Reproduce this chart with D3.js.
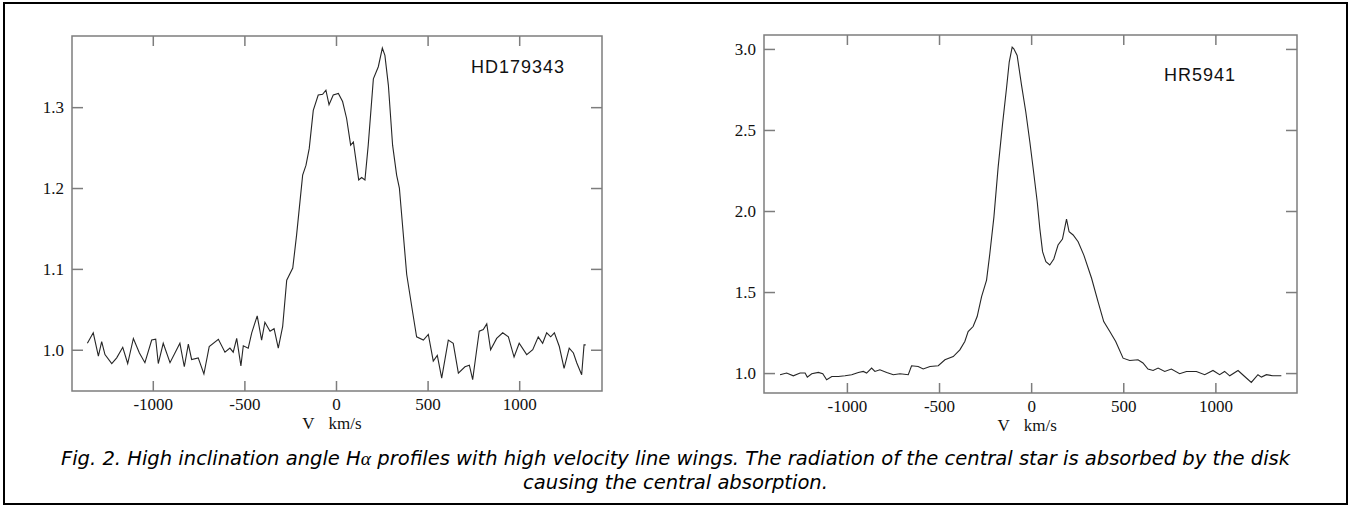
<!DOCTYPE html>
<html>
<head>
<meta charset="utf-8">
<script src="https://cdn.jsdelivr.net/npm/d3@7"></script>
<style>
  body { margin: 0; background: #fff; }
  svg { display: block; }
</style>
</head>
<body>
<svg id="fig" width="1351" height="506"></svg>
<script>
// HD179343 profile, velocity (km/s) and relative flux
const hdV = [-1357,-1325,-1297,-1279,-1261,-1224,-1197,-1164,-1137,-1106,-1073,-1043,-1006,-984,-970,-943,-906,-852,-828,-806,-788,-752,-721,-692,-642,-606,-579,-561,-542,-519,-506,-479,-460,-430,-406,-388,-360,-338,-315,-291,-269,-236,-215,-182,-164,-146,-124,-97,-73,-55,-38,-15,13,36,58,80,95,124,140,158,176,204,231,253,267,286,309,331,346,386,418,440,477,504,531,553,577,613,640,668,704,728,746,768,782,804,823,844,877,910,941,972,1000,1041,1074,1104,1128,1150,1172,1192,1219,1245,1273,1296,1314,1341,1354,1363];
const hdF = [1.008,1.021,0.992,1.010,0.994,0.983,0.990,1.003,0.983,1.014,0.996,0.984,1.012,1.013,0.983,1.008,0.984,1.008,0.979,1.007,0.988,0.990,0.970,1.004,1.013,0.997,1.002,0.997,1.014,0.980,1.005,1.002,1.021,1.042,1.012,1.034,1.023,1.026,1.002,1.029,1.086,1.101,1.142,1.216,1.228,1.249,1.296,1.315,1.316,1.321,1.303,1.315,1.317,1.307,1.286,1.253,1.257,1.210,1.213,1.210,1.253,1.335,1.350,1.373,1.364,1.327,1.253,1.216,1.200,1.093,1.047,1.016,1.012,1.019,0.986,0.993,0.965,1.012,1.008,0.971,0.979,0.981,0.963,1.000,1.023,1.025,1.032,1.000,1.014,1.021,1.016,0.991,1.008,0.994,1.000,1.016,1.008,1.021,1.016,1.021,1.004,0.977,1.002,0.996,0.984,0.969,1.006,1.006];

// HR5941 profile
const hrV = [-1363,-1327,-1291,-1254,-1227,-1215,-1191,-1155,-1131,-1110,-1082,-1047,-1010,-974,-938,-911,-893,-866,-848,-821,-784,-748,-712,-667,-649,-613,-586,-549,-504,-468,-423,-387,-360,-342,-315,-293,-269,-242,-224,-202,-179,-155,-133,-119,-103,-94,-76,-52,-29,-7,11,33,47,62,80,101,123,146,170,192,206,228,255,286,328,363,394,427,459,499,535,580,607,634,662,689,725,761,806,843,897,942,987,1023,1050,1078,1123,1159,1195,1231,1250,1277,1312,1358];
const hrF = [0.990,1.000,0.983,1.000,1.000,0.975,0.996,1.004,0.996,0.959,0.979,0.979,0.983,0.990,1.004,1.010,1.000,1.031,1.010,1.020,1.004,0.990,0.996,0.990,1.045,1.041,1.025,1.041,1.045,1.082,1.102,1.143,1.195,1.256,1.287,1.349,1.472,1.574,1.739,1.964,2.272,2.539,2.765,2.919,3.011,3.001,2.960,2.775,2.611,2.426,2.262,2.057,1.893,1.749,1.687,1.667,1.704,1.790,1.827,1.950,1.872,1.852,1.810,1.728,1.585,1.441,1.318,1.256,1.195,1.092,1.078,1.082,1.062,1.025,1.016,1.031,1.010,1.025,0.996,1.010,1.010,0.990,1.016,0.990,1.010,0.983,1.016,0.979,0.942,0.990,0.975,0.990,0.983,0.983];

const xTicks = [-1000, -500, 0, 500, 1000];
const hdYTicks = [1.0, 1.1, 1.2, 1.3];
const hrYTicks = [1.0, 1.5, 2.0, 2.5, 3.0];
const captionLine1 = ["Fig. 2. High inclination angle H", "α", " profiles with high velocity line wings. The radiation of the central star is absorbed by the disk"];
const captionLine2 = "causing the central absorption.";

const svg = d3.select("#fig");
const frameColor = "#7d7d7d";
const serif = "'Liberation Serif', 'Times New Roman', serif";

// outer border of the figure
svg.append("rect")
  .attr("x", 4).attr("y", 3)
  .attr("width", 1343).attr("height", 501)
  .attr("fill", "none")
  .attr("stroke", "#000")
  .attr("stroke-width", 2);

function drawPanel(opt){
  var w = opt.right - opt.left, h = opt.bottom - opt.top;
  var x = d3.scaleLinear().domain(opt.xDomain).range([0, w]);
  var y = d3.scaleLinear().domain(opt.yDomain).range([h, 0]);
  var g = svg.append("g").attr("transform", "translate(" + opt.left + "," + opt.top + ")");

  var fmtY = d3.format(".1f");

  g.append("g").attr("transform", "translate(0," + h + ")")
    .call(d3.axisBottom(x).tickValues(xTicks).tickSize(-10).tickSizeOuter(0).tickPadding(7).tickFormat(d => String(d)));
  g.append("g")
    .call(d3.axisTop(x).tickValues(xTicks).tickSize(-10).tickSizeOuter(0).tickFormat(""));
  g.append("g")
    .call(d3.axisLeft(y).tickValues(opt.yTicks).tickSize(-11).tickSizeOuter(0).tickPadding(8).tickFormat(fmtY));
  g.append("g").attr("transform", "translate(" + w + ",0)")
    .call(d3.axisRight(y).tickValues(opt.yTicks).tickSize(-11).tickSizeOuter(0).tickFormat(""));

  g.selectAll(".domain").remove();
  g.selectAll(".tick line").attr("stroke", frameColor).attr("stroke-width", 1.5);
  g.selectAll(".tick text")
    .attr("fill", "#111")
    .style("font-family", serif)
    .style("font-size", "17px");

  g.append("rect")
    .attr("width", w).attr("height", h)
    .attr("fill", "none")
    .attr("stroke", frameColor)
    .attr("stroke-width", 1.5);

  var pts = opt.v.map((v, i) => ({v: v, f: opt.f[i]}));
  var line = d3.line()
    .x(d => x(d.v))
    .y(d => y(d.f))
    .curve(d3.curveLinear);
  g.append("path")
    .datum(pts)
    .attr("d", line)
    .attr("fill", "none")
    .attr("stroke", "#262626")
    .attr("stroke-width", 1.1);

  // star name
  g.append("text")
    .attr("x", opt.nameX - opt.left)
    .attr("y", opt.nameY - opt.top)
    .attr("fill", "#111")
    .style("font-family", "'Liberation Sans', Arial, sans-serif")
    .style("font-size", "18px")
    .style("letter-spacing", "1px")
    .text(opt.name);

  // axis title
  var t = g.append("text")
    .attr("x", x(0) - 4)
    .attr("y", h + 38)
    .attr("text-anchor", "middle")
    .attr("fill", "#111")
    .style("font-family", serif)
    .style("font-size", "17px");
  t.append("tspan").text("V");
  t.append("tspan").attr("dx", 14).text("km/s");
}

drawPanel({
  left: 72, right: 602, top: 36, bottom: 391,
  xDomain: [-1441, 1452], yDomain: [0.949, 1.388],
  yTicks: hdYTicks, v: hdV, f: hdF,
  name: "HD179343", nameX: 471, nameY: 73
});

drawPanel({
  left: 764, right: 1297, top: 35, bottom: 393,
  xDomain: [-1450, 1443], yDomain: [0.877, 3.086],
  yTicks: hrYTicks, v: hrV, f: hrF,
  name: "HR5941", nameX: 1164, nameY: 81
});

// caption
var capFont = "'DejaVu Sans', Verdana, sans-serif";
var cap1 = svg.append("text")
  .attr("x", 675.5).attr("y", 465)
  .attr("text-anchor", "middle")
  .style("font-family", capFont)
  .style("font-style", "italic")
  .style("font-size", "15px");
captionLine1.forEach(function(s, i){
  var sp = cap1.append("tspan").text(s);
  if(i == 1) sp.style("font-family", serif);
});
// fit first line to the width seen in the figure
var wCap = cap1.node().getComputedTextLength();
var capSize = 15 * 1230 / wCap;
cap1.style("font-size", capSize + "px");

svg.append("text")
  .attr("x", 675.5).attr("y", 489)
  .attr("text-anchor", "middle")
  .style("font-family", capFont)
  .style("font-style", "italic")
  .style("font-size", capSize + "px")
  .text(captionLine2);
</script>
</body>
</html>
